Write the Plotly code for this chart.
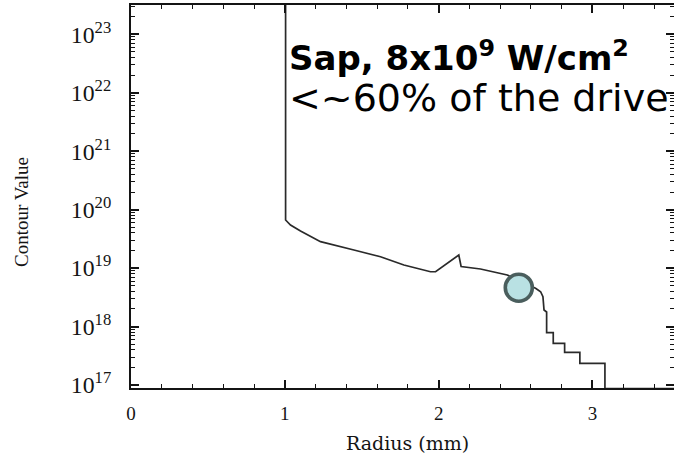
import plotly.graph_objects as go

# Radial profile of the contour value (radius in mm, value in log10 units)
radius_mm = [0.0, 1.005, 1.005, 1.037, 1.102, 1.232, 1.449, 1.622, 1.774, 1.947,
             1.980, 2.131, 2.146, 2.272, 2.446, 2.630, 2.663, 2.678, 2.685, 2.702,
             2.702, 2.745, 2.745, 2.819, 2.819, 2.918, 2.918, 3.081, 3.081, 3.53]
log_value = [23.52, 23.52, 19.823, 19.737, 19.635, 19.452, 19.310, 19.195, 19.053, 18.938,
             18.938, 19.224, 19.027, 18.985, 18.882, 18.654, 18.596, 18.511, 18.283, 18.249,
             17.895, 17.895, 17.713, 17.713, 17.559, 17.559, 17.371, 17.371, 16.94, 16.94]
contour_value = [10 ** v for v in log_value]

# Highlighted point on the profile
marker_radius = [2.521]
marker_value = [10 ** 18.665]

title_line1 = "Sap, 8x10<sup>9</sup> W/cm<sup>2</sup>"
title_line2 = "&lt;~60% of the drive"
x_title = "Radius (mm)"
y_title = "Contour Value"

W, H = 674, 466
L, R, T, B = 131, 0, 5, 78
pw, ph = W - L - R, H - T - B
INK = "#141414"
X_RANGE = [0, 3.53]
Y_RANGE = [16.949, 23.501]


def px(x):
    return (x - L) / pw


def py(y):
    return (H - B - y) / ph


fig = go.Figure()
fig.add_trace(go.Scatter(
    x=radius_mm, y=contour_value, mode="lines",
    line=dict(color="#2a2a2a", width=1.7),
    hoverinfo="skip", showlegend=False,
))
fig.add_trace(go.Scatter(
    x=marker_radius, y=marker_value, mode="markers",
    marker=dict(size=27, color="#b9e1e3", line=dict(color="#4a5e5d", width=3.6)),
    hoverinfo="skip", showlegend=False,
))

tick_font = dict(family="Liberation Serif", size=19, color=INK)
major = dict(ticks="inside", ticklen=8, tickwidth=1.5, tickcolor=INK)
minor_x = dict(dtick=0.2, ticks="inside", ticklen=4, tickwidth=1.3, tickcolor=INK, showgrid=False)
minor_y = dict(dtick="D1", ticks="inside", ticklen=4, tickwidth=1.2, tickcolor=INK, showgrid=False)

fig.update_layout(
    width=W, height=H,
    margin=dict(l=L, r=R, t=T, b=B, pad=0),
    paper_bgcolor="white", plot_bgcolor="white",
    xaxis=dict(
        range=X_RANGE, tickmode="linear", tick0=0, dtick=1, **major, minor=minor_x,
        showline=True, linewidth=2, linecolor=INK, mirror="ticks",
        showgrid=False, zeroline=False, tickfont=tick_font, ticklabelstandoff=7,
    ),
    yaxis=dict(
        type="log", range=Y_RANGE, dtick=1, **major, minor=minor_y,
        exponentformat="power", showexponent="all",
        showline=True, linewidth=2, linecolor=INK, mirror=False,
        showgrid=False, zeroline=False, tickfont=tick_font, ticklabelstandoff=14,
    ),
    # right-hand tick marks without a frame line
    yaxis2=dict(type="log", range=Y_RANGE, dtick=1, overlaying="y", side="right",
                anchor="x", **major, minor=minor_y, showline=False, showgrid=False,
                zeroline=False, showticklabels=False),
    annotations=[
        dict(text="<span style='font-size:34px'><b>" + title_line1 + "</b></span><br>"
                  "<span style='font-size:38px'>" + title_line2 + "</span>",
             x=px(287), y=py(32), xref="paper", yref="paper", align="left",
             xanchor="left", yanchor="top", showarrow=False,
             font=dict(family="DejaVu Sans", size=31, color="black")),
        dict(text=x_title, x=px(407), y=py(443), xref="paper", yref="paper",
             xanchor="center", yanchor="middle", showarrow=False,
             font=dict(family="DejaVu Serif", size=19, color=INK)),
        dict(text=y_title, x=px(22), y=py(212), xref="paper", yref="paper",
             xanchor="center", yanchor="middle", showarrow=False, textangle=-90,
             font=dict(family="Liberation Serif", size=19, color=INK)),
    ],
)
# empty trace so the right-hand tick axis is drawn
fig.add_trace(go.Scatter(x=[None], y=[None], yaxis="y2", showlegend=False, hoverinfo="skip"))

fig.write_html("out.html", config={"displayModeBar": False})
